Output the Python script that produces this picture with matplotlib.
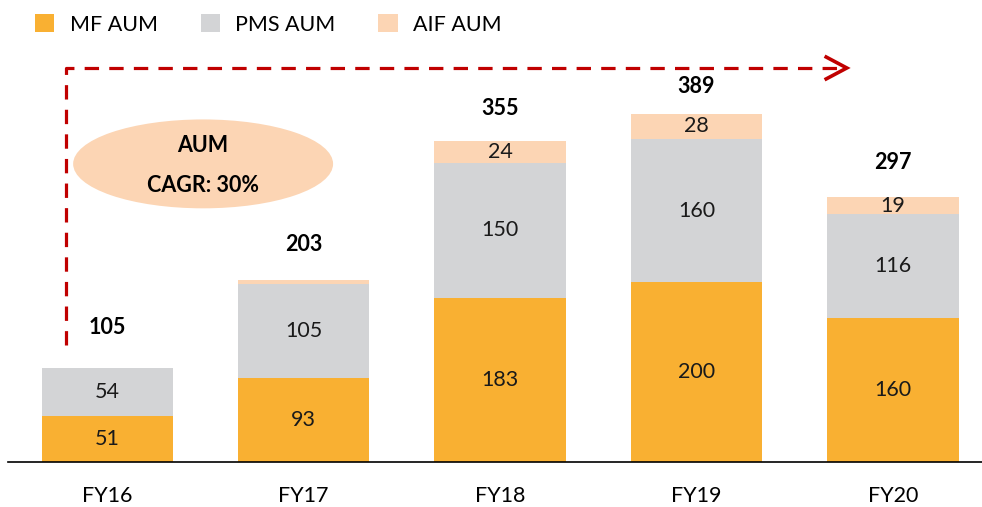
import numpy as np
import matplotlib.pyplot as plt
from matplotlib.patches import Ellipse

years = ['FY16', 'FY17', 'FY18', 'FY19', 'FY20']
mf = [51, 93, 183, 200, 160]
pms = [54, 105, 150, 160, 116]
aif = [0, 5, 24, 28, 19]
totals = [105, 203, 355, 389, 297]
aif_labels = ['', '', '24', '28', '19']

c_mf = '#F9B032'
c_pms = '#D3D4D6'
c_aif = '#FCD5B4'
red = '#C00000'

plt.rcParams['font.family'] = ['Lato', 'DejaVu Sans']

fig = plt.figure(figsize=(9.82, 5.07), dpi=100)
ax = fig.add_axes([8 / 982, 0, 1 - 8 / 982, 1])

x = np.arange(len(years))
w = 0.667
mf = np.array(mf)
pms = np.array(pms)
aif = np.array(aif)

ax.bar(x, mf, w, color=c_mf, label='MF AUM')
ax.bar(x, pms, w, bottom=mf, color=c_pms, label='PMS AUM')
ax.bar(x, aif, w, bottom=mf + pms, color=c_aif, label='AIF AUM')

fs = 15.5
# total labels sit a bit unevenly above the bars in the original
total_off = [29, 25, 24, 19.5, 25]
for i in range(len(x)):
    ax.text(x[i], mf[i] / 2, str(mf[i]), ha='center', va='center', fontsize=fs, color='#1a1a1a')
    ax.text(x[i], mf[i] + pms[i] / 2, str(pms[i]), ha='center', va='center', fontsize=fs, color='#1a1a1a')
    if aif_labels[i]:
        ax.text(x[i], mf[i] + pms[i] + aif[i] / 2, aif_labels[i], ha='center', va='center',
                fontsize=fs, color='#1a1a1a')
    ax.annotate(str(totals[i]), (x[i], mf[i] + pms[i] + aif[i]), xytext=(0, total_off[i]),
                textcoords='offset points', ha='center', va='center', fontsize=fs,
                fontweight='bold', color='black')

# limits so the layout matches pixel positions
ax.set_xlim(-0.504, 4.453)
ax.set_ylim(-50.1, 514.5)

for s in ['top', 'right', 'left']:
    ax.spines[s].set_visible(False)
ax.spines['bottom'].set_position(('data', 0))
ax.spines['bottom'].set_color('black')
ax.spines['bottom'].set_linewidth(1.2)
ax.set_yticks([])
ax.set_xticks(x)
ax.set_xticklabels(years, fontsize=fs)
ax.tick_params(axis='x', length=0, pad=17)

# CAGR ellipse
ell = Ellipse((0.489, 332), 1.323, 99, color=c_aif, ec='none')
ax.add_patch(ell)
ax.text(0.489, 352, 'AUM', ha='center', va='center', fontsize=fs, fontweight='bold')
ax.text(0.489, 308, 'CAGR: 30%', ha='center', va='center', fontsize=fs, fontweight='bold')

# dashed growth arrow
ax.plot([-0.209, -0.209, 3.75], [130, 438.8, 438.8], color=red, lw=2.3,
        dashes=(4.5, 3.2), solid_capstyle='butt')
ax.plot([3.66, 3.765, 3.66], [451, 438.8, 426.6], color=red, lw=2.6,
        solid_joinstyle='miter')

fig.legend(loc='upper left', bbox_to_anchor=(0.016, 1.01), ncol=3, frameon=False,
           fontsize=fs, handlelength=0.9, handleheight=0.9, handletextpad=0.7,
           columnspacing=2.0)

fig.savefig('out.png', dpi=100)
